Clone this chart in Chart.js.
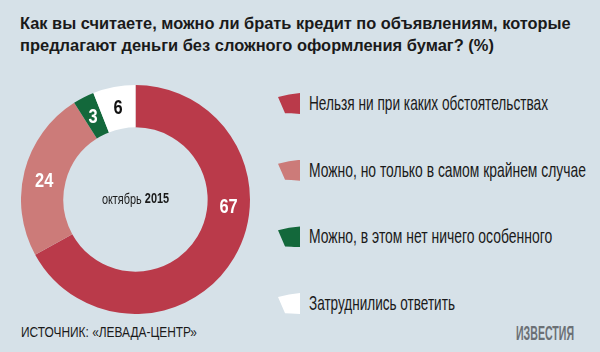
<!DOCTYPE html>
<html>
<head>
<meta charset="utf-8">
<script src="https://cdn.jsdelivr.net/npm/chart.js@4"></script>
<style>
  body { margin: 0; background: #d6e1e8; }
  #page { position: relative; width: 600px; height: 352px; overflow: hidden; background: #d6e1e8;
    font-family: "Liberation Sans", Arial, sans-serif; color: #1a1a1a; }
  .fit { position: absolute; white-space: nowrap; display: inline-block; transform-origin: left center; }
  .t { font-size: 17px; font-weight: bold; left: 20px; }
  #donut { position: absolute; left: 21px; top: 85px; width: 229px; height: 229px; }
  #legend { position: absolute; left: 278px; top: 93px; }
  .row { position: relative; height: 66.7px; width: 320px; }
  .mark { position: absolute; left: 0; top: 0; width: 22px; height: 21px;
    clip-path: polygon(0 19%, 50% 7%, 100% 0, 100% 100%, 60% 97%, 32% 96%); }
  .txt { left: 31px; top: -2px; font-size: 21px; line-height: 24px; }
  #source { left: 21px; top: 323px; font-size: 15px; }
  #logo { left: 516px; top: 321px; font-size: 21px; font-weight: bold; color: #6b7075; }
</style>
</head>
<body>
<div id="page">
  <div class="fit t" id="title1" style="top:14px" data-w="551">Как вы считаете, можно ли брать кредит по объявлениям, которые</div>
  <div class="fit t" id="title2" style="top:36px" data-w="474">предлагают деньги без сложного оформления бумаг? (%)</div>
  <div id="donut"><canvas id="chart"></canvas></div>
  <div id="legend"></div>
  <div class="fit" id="source" data-w="176">ИСТОЧНИК: «ЛЕВАДА-ЦЕНТР»</div>
  <div class="fit" id="logo" data-w="58">ИЗВЕСТИЯ</div>
</div>
<script>
// Answers and shares, October 2015
var categories = [
  "Нельзя ни при каких обстоятельствах",
  "Можно, но только в самом крайнем случае",
  "Можно, в этом нет ничего особенного",
  "Затруднились ответить"
];
var values = [67, 24, 3, 6];
var colors = ["#ba3a4a", "#cc7b79", "#13683b", "#ffffff"];
var labelColors = ["#ffffff", "#ffffff", "#ffffff", "#111111"];
// where along each slice the number sits (0 = start, 1 = end)
var labelAt = [0.39, 0.47, 0.5, 0.5];
var centerText = ["октябрь ", "2015"];
// measured widths of the legend texts in the reference
var legendWidths = [239, 277, 243, 146];

// legend
var legend = document.getElementById("legend");
categories.forEach(function (name, i) {
  var row = document.createElement("div");
  row.className = "row";
  var mark = document.createElement("div");
  mark.className = "mark";
  mark.style.background = colors[i];
  var txt = document.createElement("div");
  txt.className = "fit txt";
  txt.textContent = name;
  txt.setAttribute("data-w", legendWidths[i]);
  row.appendChild(mark);
  row.appendChild(txt);
  legend.appendChild(row);
});

// squeeze texts horizontally to the narrow look of the original font
document.querySelectorAll(".fit").forEach(function (el) {
  var w = el.getBoundingClientRect().width;
  var target = parseFloat(el.getAttribute("data-w"));
  el.style.transform = "scaleX(" + (target / w).toFixed(3) + ")";
});

var sliceLabels = {
  id: "sliceLabels",
  afterDatasetsDraw: function (chart) {
    var ctx = chart.ctx;
    var arcs = chart.getDatasetMeta(0).data;
    arcs.forEach(function (arc, i) {
      var p = arc.getProps(["x", "y", "startAngle", "endAngle", "innerRadius", "outerRadius"], true);
      var a = p.startAngle + (p.endAngle - p.startAngle) * labelAt[i];
      var r = (p.innerRadius + p.outerRadius) / 2;
      ctx.save();
      ctx.translate(p.x + Math.cos(a) * r, p.y + Math.sin(a) * r + 1);
      ctx.scale(0.82, 1);
      ctx.textAlign = "center";
      ctx.textBaseline = "middle";
      ctx.font = "bold 20px 'Liberation Sans', sans-serif";
      ctx.fillStyle = labelColors[i];
      ctx.fillText(String(values[i]), 0, 0);
      ctx.restore();
    });
    // center caption
    var c = arcs[0];
    var sx = 0.78;
    ctx.save();
    ctx.translate(c.x, c.y);
    ctx.scale(sx, 1);
    ctx.font = "14px 'Liberation Sans', sans-serif";
    var w1 = ctx.measureText(centerText[0]).width;
    ctx.font = "bold 14px 'Liberation Sans', sans-serif";
    var w2 = ctx.measureText(centerText[1]).width;
    var x0 = -(w1 + w2) / 2;
    ctx.textAlign = "left";
    ctx.textBaseline = "middle";
    ctx.fillStyle = "#1a1a1a";
    ctx.font = "14px 'Liberation Sans', sans-serif";
    ctx.fillText(centerText[0], x0, 1);
    ctx.font = "bold 14px 'Liberation Sans', sans-serif";
    ctx.fillText(centerText[1], x0 + w1, 0);
    ctx.restore();
  }
};

new Chart(document.getElementById("chart"), {
  type: "doughnut",
  data: {
    labels: categories,
    datasets: [{
      data: values,
      backgroundColor: colors,
      borderWidth: 0
    }]
  },
  options: {
    responsive: true,
    maintainAspectRatio: false,
    animation: false,
    cutout: "63%",
    plugins: {
      legend: { display: false },
      tooltip: { enabled: false }
    }
  },
  plugins: [sliceLabels]
});
</script>
</body>
</html>
